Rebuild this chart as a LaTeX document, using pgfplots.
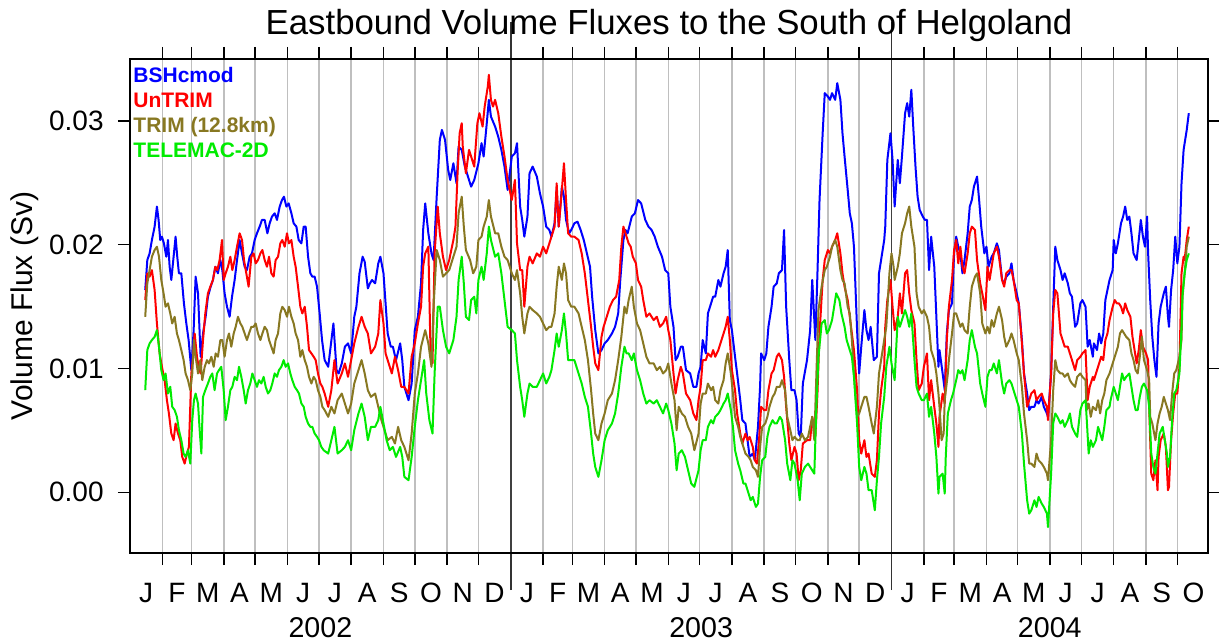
\documentclass[border=0pt]{standalone}
\usepackage{fontspec}
\setmainfont{Liberation Sans}
\usepackage{pgfplots}
\pgfplotsset{compat=1.18}

\definecolor{bshblue}{RGB}{0,0,255}
\definecolor{untrimred}{RGB}{255,0,0}
\definecolor{trimolive}{RGB}{136,120,34}
\definecolor{telemacgreen}{RGB}{0,235,0}

\begin{document}
\begin{tikzpicture}
\begin{axis}[
  scale only axis,
  width=539pt, height=247pt,
  xmin=0, xmax=1033.4,
  ymin=-0.0049, ymax=0.0350,
  clip mode=individual,
  axis line style={line width=1pt},
  tick align=outside,
  major tick length=6pt,
  minor tick length=18.5pt,
  tick style={black, line width=0.75pt},
  minor tick style={black!80, line width=0.9pt},
  xtick={31,59,90,120,151,181,212,243,273,304,334,396,424,455,485,516,546,577,608,638,669,699,761,790,821,851,882,912,943,974,1004},
  xticklabels={},
  minor xtick={365,730},
  xmajorgrids, xminorgrids,
  major grid style={black!25, line width=0.75pt},
  minor grid style={black!75, line width=0.9pt},
  extra x ticks={15.5,45,74.5,105,135.5,166,196.5,227.5,258,288.5,319,349.5,380.5,410,439.5,470,500.5,531,561.5,592.5,623,653.5,684,714.5,745.5,775.5,805.5,836,866.5,897,927.5,958.5,989,1019.5},
  extra x tick labels={J,F,M,A,M,J,J,A,S,O,N,D,J,F,M,A,M,J,J,A,S,O,N,D,J,F,M,A,M,J,J,A,S,O},
  extra x tick style={major tick length=0pt, grid=none,
    xticklabel style={anchor=base, yshift=-24.5pt}},
  ytick={0,0.01,0.02,0.03},
  scaled y ticks=false,
  tick label style={font=\fontsize{14}{16}\selectfont},
  yticklabel style={/pgf/number format/.cd, fixed, fixed zerofill, precision=2,
    assume math mode=true, /tikz/.cd, anchor=east, inner sep=0pt, xshift=-7pt},
  title={Eastbound Volume Fluxes to the South of Helgoland},
  every axis title shift=0pt,
  title style={at={(axis description cs:0.5,1)}, anchor=base, yshift=12.35pt,
    font=\fontsize{17.4}{20}\selectfont},
  ylabel={Volume Flux (Sv)},
  ylabel style={at={(axis description cs:-0.09,0.5)}, anchor=base,
    font=\fontsize{15}{18}\selectfont},
  every axis plot/.append style={line width=1pt, line join=round, no marks},
]
% BSHcmod
\addplot[bshblue] table {
x y
14.6 0.01634
16.6 0.01876
18.8 0.01930
21.0 0.02038
23.6 0.02146
25.8 0.02308
27.4 0.02200
29.0 0.02038
30.6 0.02065
32.5 0.02011
34.8 0.01903
36.4 0.02038
38.0 0.01822
39.6 0.01715
41.8 0.01903
43.7 0.02065
45.3 0.01903
46.9 0.01769
49.2 0.01769
51.7 0.01526
54.0 0.01364
56.2 0.01230
58.8 0.00987
61.0 0.01310
62.9 0.01742
65.2 0.01607
67.7 0.01095
70.0 0.01283
72.5 0.01418
74.7 0.01580
77.3 0.01661
79.5 0.01715
81.8 0.01822
84.3 0.01769
86.6 0.01876
88.5 0.01795
90.7 0.01607
93.0 0.01499
95.5 0.01418
97.8 0.01580
100.3 0.01715
102.6 0.01876
105.1 0.02038
107.4 0.01930
109.9 0.01822
112.1 0.01795
114.7 0.01903
116.9 0.01930
119.5 0.02038
121.7 0.02092
124.3 0.02146
126.5 0.02200
129.1 0.02200
131.7 0.02092
133.9 0.02173
136.1 0.02227
138.7 0.02254
140.9 0.02200
143.5 0.02308
145.7 0.02361
147.6 0.02388
149.9 0.02308
152.1 0.02334
154.7 0.02254
156.9 0.02173
159.5 0.02146
161.7 0.02038
164.3 0.02011
166.5 0.02146
168.4 0.02146
170.7 0.01903
172.9 0.01769
174.8 0.01742
177.0 0.01742
179.3 0.01661
181.8 0.01445
184.1 0.01230
186.6 0.01068
190 0.01014
195 0.01364
198 0.00987
200 0.00960
203 0.01041
206 0.01176
209 0.01203
212 0.01122
215 0.01418
217 0.01499
220 0.01769
223 0.01903
225 0.01862
228 0.01647
230 0.01688
232 0.01715
235 0.01688
238 0.01849
240 0.01903
243 0.01769
245 0.01526
247 0.01283
250 0.01176
252 0.01176
255 0.01068
259 0.01203
261 0.01068
263 0.00852
267 0.00744
270 0.00879
273 0.01310
276 0.01418
279 0.01688
281 0.02119
283 0.02334
286 0.02092
289 0.01930
291 0.01876
294 0.02388
297 0.02847
299 0.02927
302 0.02847
305 0.02604
307 0.02523
310 0.02658
313 0.02496
315 0.02793
318 0.02766
321 0.02631
324 0.02550
327 0.02469
330 0.02523
334 0.02658
337 0.02820
339 0.02712
342 0.02981
344 0.03170
346 0.03035
350 0.02954
353 0.02873
356 0.02766
359 0.02631
362 0.02442
366 0.02712
369 0.02739
371 0.02820
374 0.02308
376 0.02200
378 0.02065
381 0.02227
383 0.02577
386 0.02631
390 0.02550
393 0.02415
396 0.02308
399 0.02146
402 0.02119
404 0.02065
407 0.02173
409 0.02442
411 0.02146
414 0.02469
416 0.02388
418 0.02200
421 0.02092
423 0.02119
426 0.02173
429 0.02186
432 0.02119
435 0.02038
438 0.01930
441 0.01822
443 0.01580
446 0.01310
449 0.01122
452 0.01149
455 0.01203
458 0.01230
462 0.01283
465 0.01337
468 0.01445
470 0.01715
473 0.02038
475 0.02119
477 0.02092
481 0.02227
484 0.02254
487 0.02361
490 0.02334
494 0.02200
497 0.02146
500 0.02119
503 0.02065
506 0.01984
510 0.01903
513 0.01795
516 0.01769
518 0.01499
521 0.01337
523 0.01068
525 0.01095
528 0.01176
530 0.01176
533 0.00987
537 0.00960
540 0.00852
543 0.00852
545 0.00960
547 0.01014
549 0.01230
552 0.01122
554 0.01445
557 0.01526
559 0.01580
561 0.01580
564 0.01715
566 0.01661
569 0.01769
571 0.01822
573 0.01957
575 0.01391
577 0.01310
580 0.01095
582 0.00960
585 0.00744
587 0.00583
590 0.00556
592 0.00421
594 0.00286
597 0.00313
599 0.00259
602 0.00529
604 0.00852
605 0.01122
608 0.01068
610 0.01122
612 0.01337
615 0.01499
617 0.01661
620 0.01688
622 0.01769
625 0.01795
627 0.02119
629 0.01499
632 0.01068
634 0.00825
637 0.00825
639 0.00744
641 0.00475
643 0.00448
645 0.00879
649 0.01068
652 0.01310
654 0.01715
657 0.01230
659 0.01769
661 0.02361
664 0.02900
666 0.03224
669 0.03197
671 0.03170
673 0.03224
676 0.03170
678 0.03305
681 0.03170
683 0.02900
685 0.02712
688 0.02442
690 0.02254
692 0.02173
694 0.01984
697 0.01310
699 0.00960
701 0.01176
704 0.01472
706 0.01310
708 0.01230
710 0.01337
713 0.01068
716 0.01095
718 0.01769
720 0.01876
723 0.02038
724 0.02146
726 0.02685
729 0.02900
731 0.02685
733 0.02308
736 0.02685
738 0.02496
740 0.02712
743 0.03062
745 0.03143
747 0.03035
749 0.03251
751 0.02927
753 0.02631
755 0.02388
757 0.02281
760 0.02227
762 0.02200
764 0.02200
766 0.01795
768 0.02065
771 0.01822
773 0.01418
775 0.01014
776 0.01149
779 0.00960
781 0.00825
783 0.01283
785 0.01472
788 0.01526
790 0.01930
792 0.02065
794 0.01984
796 0.01930
798 0.01769
800 0.01876
803 0.02092
805 0.02308
807 0.02361
809 0.02469
812 0.02550
814 0.02361
816 0.02146
819 0.01930
821 0.01984
823 0.01822
826 0.01903
828 0.01930
831 0.02011
833 0.01957
836 0.01715
838 0.01688
840 0.01742
843 0.01769
845 0.01849
847 0.01715
850 0.01607
852 0.01526
855 0.01230
857 0.00960
860 0.00798
862 0.00664
864 0.00691
867 0.00691
869 0.00744
871 0.00717
874 0.00771
876 0.00691
879 0.00637
880 0.00610
883 0.00960
885 0.01499
887 0.01984
889 0.01876
892 0.01795
894 0.01715
896 0.01769
899 0.01688
901 0.01607
903 0.01580
906 0.01337
908 0.01364
911 0.01526
913 0.01553
916 0.01499
918 0.01176
920 0.01230
923 0.01095
924 0.01203
927 0.01149
929 0.01283
931 0.01203
933 0.01283
935 0.01553
937 0.01634
939 0.01715
942 0.01795
943 0.02038
945 0.01930
947 0.02011
950 0.02173
952 0.02227
954 0.02308
956 0.02200
958 0.02227
960 0.02092
962 0.01930
965 0.01876
967 0.02038
969 0.02200
971 0.02065
973 0.01984
975 0.02227
976 0.01930
978 0.01553
980 0.01256
982 0.01068
984 0.00933
986 0.01364
988 0.01499
991 0.01607
993 0.01661
995 0.01418
996 0.01337
998 0.01634
1000 0.01795
1002 0.02065
1004 0.01849
1006 0.01984
1008 0.02496
1010 0.02766
1011 0.02820
1013 0.02927
1015 0.03062
};
% UnTRIM
\addplot[untrimred] table {
x y
14.6 0.01553
16.6 0.01769
18.8 0.01742
21.0 0.01795
23.6 0.01634
25.8 0.01364
28.4 0.01122
30.6 0.01014
33.2 0.00906
35.4 0.00744
37.3 0.00637
39.6 0.00475
41.8 0.00421
43.7 0.00556
46.0 0.00475
48.2 0.00421
50.1 0.00286
52.4 0.00232
54.6 0.00313
56.5 0.00367
58.8 0.00960
60.4 0.01095
62.0 0.01283
64.2 0.01095
65.8 0.01014
67.7 0.00960
70.0 0.01230
72.2 0.01445
74.7 0.01607
77.0 0.01661
79.5 0.01715
81.8 0.01822
83.7 0.01795
85.9 0.01876
88.2 0.02038
89.8 0.01715
91.7 0.01769
93.9 0.01822
96.2 0.01903
98.1 0.01795
100.3 0.01876
102.6 0.01984
105.1 0.02092
107.4 0.02038
109.3 0.01876
111.5 0.01769
113.7 0.01661
116.3 0.01903
118.5 0.01930
120.5 0.01849
122.7 0.01876
125.0 0.01930
126.9 0.01957
129.1 0.01876
131.3 0.01822
133.3 0.01903
135.5 0.01769
137.7 0.01742
139.6 0.01876
141.9 0.01903
144.1 0.02011
146.0 0.02038
148.3 0.01984
150.5 0.02092
152.4 0.02011
154.7 0.02038
156.9 0.01903
158.8 0.01822
161.1 0.01661
163.3 0.01499
165.2 0.01445
167.5 0.01499
169.7 0.01337
171.6 0.01149
173.9 0.01122
176.1 0.01095
178.0 0.01068
180.2 0.00960
182.5 0.00879
184.4 0.00852
186.6 0.00798
190 0.00691
193 0.00825
196 0.01068
199 0.00879
203 0.00960
206 0.01041
209 0.00933
212 0.01068
215 0.01203
219 0.01337
222 0.01418
225 0.01337
228 0.01283
231 0.01122
235 0.01176
238 0.01283
240 0.01553
243 0.01364
245 0.01122
247 0.01068
251 0.00960
254 0.01095
257 0.00987
260 0.00852
263 0.00852
267 0.00798
270 0.01095
273 0.01203
276 0.01364
279 0.01499
281 0.01822
283 0.01930
286 0.01984
288 0.01176
290 0.01041
292 0.01930
295 0.02308
297 0.02092
300 0.01903
303 0.01795
306 0.01876
310 0.02038
312 0.02146
314 0.02577
316 0.02900
318 0.02981
319 0.02793
322 0.02577
325 0.02766
327 0.02712
330 0.02631
333 0.02981
335 0.03062
338 0.02954
340 0.03116
343 0.03278
344 0.03372
346 0.03170
348 0.03116
350 0.03170
353 0.03062
356 0.02873
359 0.02712
362 0.02523
366 0.02361
369 0.02523
371 0.02011
374 0.01795
376 0.01795
378 0.01499
381 0.01822
383 0.01903
386 0.01849
390 0.01930
393 0.01903
396 0.01984
399 0.01930
402 0.02011
404 0.02065
407 0.02146
409 0.02496
411 0.02146
414 0.02442
416 0.02658
418 0.02361
420 0.02092
423 0.02065
426 0.02065
430 0.02038
433 0.01930
436 0.01769
439 0.01553
442 0.01337
444 0.01176
446 0.01041
449 0.00987
452 0.01256
454 0.01337
457 0.01418
460 0.01499
463 0.01553
466 0.01580
469 0.01715
471 0.01984
473 0.02146
476 0.02065
478 0.02011
480 0.01984
482 0.01903
485 0.01849
487 0.01715
490 0.01661
492 0.01553
495 0.01418
498 0.01445
502 0.01391
505 0.01418
508 0.01337
511 0.01364
514 0.01418
516 0.01310
518 0.01230
521 0.00960
523 0.00798
525 0.00906
528 0.01014
530 0.00960
533 0.00798
537 0.00744
540 0.00637
543 0.00583
545 0.00744
547 0.00852
549 0.01068
552 0.01068
554 0.01122
557 0.01095
559 0.01149
561 0.01095
564 0.01149
566 0.01203
569 0.01283
571 0.01337
573 0.01418
575 0.01230
577 0.00987
580 0.00825
582 0.00637
585 0.00475
587 0.00394
590 0.00475
592 0.00421
594 0.00448
597 0.00367
599 0.00259
601 0.00232
603 0.00421
605 0.00691
608 0.00664
610 0.00664
612 0.00825
615 0.00960
617 0.00987
620 0.01095
622 0.01122
625 0.01068
627 0.00933
629 0.00691
632 0.00394
634 0.00259
637 0.00367
639 0.00313
641 0.00098
643 0.00178
645 0.00394
649 0.00421
652 0.00421
654 0.00610
657 0.00448
659 0.00798
661 0.01283
664 0.01715
666 0.01876
669 0.01957
671 0.01930
673 0.01984
676 0.02038
678 0.02092
681 0.01930
683 0.01769
685 0.01661
688 0.01553
690 0.01418
692 0.01283
694 0.01149
697 0.00825
699 0.00421
701 0.00313
704 0.00421
706 0.00286
708 0.00313
711 0.00151
714 0.00125
716 0.00259
718 0.00637
720 0.00825
723 0.01014
724 0.01337
726 0.01553
729 0.01715
731 0.01499
733 0.01310
736 0.01418
738 0.01607
740 0.01445
743 0.01769
745 0.01795
747 0.01607
749 0.01472
752 0.01364
754 0.01068
756 0.00825
759 0.00879
761 0.01014
764 0.01122
766 0.00744
768 0.00906
771 0.00691
773 0.00556
775 0.00367
776 0.00610
779 0.00798
781 0.00717
783 0.01230
785 0.01499
788 0.01715
790 0.01957
792 0.02038
794 0.01849
796 0.01984
798 0.01822
800 0.01769
803 0.01930
805 0.02092
807 0.02146
810 0.02119
812 0.01876
815 0.01688
817 0.01607
820 0.01472
822 0.01822
824 0.01715
826 0.01822
828 0.01930
831 0.01984
833 0.01903
836 0.01715
838 0.01661
840 0.01769
843 0.01795
845 0.01795
847 0.01715
850 0.01553
852 0.01526
855 0.01203
857 0.00960
860 0.00691
862 0.00744
864 0.00798
867 0.00825
869 0.00744
871 0.00771
874 0.00798
876 0.00744
879 0.00691
880 0.00583
883 0.00960
885 0.01445
887 0.01634
889 0.01607
892 0.01283
894 0.01230
896 0.01176
899 0.01176
901 0.01122
903 0.01068
906 0.00987
908 0.01068
911 0.01095
913 0.01122
916 0.01149
918 0.00744
920 0.00852
923 0.00933
924 0.00906
927 0.00987
929 0.01041
931 0.01095
933 0.01068
935 0.01230
937 0.01283
939 0.01391
942 0.01499
944 0.01553
946 0.01526
948 0.01526
950 0.01499
952 0.01445
954 0.01526
956 0.01472
959 0.01418
961 0.01256
963 0.01149
965 0.01041
967 0.01149
969 0.01310
971 0.01176
974 0.01122
976 0.01068
977 0.00691
979 0.00151
981 0.00098
983 0.00259
985 0.00017
986 0.00286
988 0.00421
991 0.00475
993 0.00367
995 0.00017
996 0.00044
998 0.00421
1000 0.00637
1002 0.00798
1004 0.00798
1006 0.01014
1008 0.01769
1010 0.01903
1011 0.01876
1013 0.02038
1015 0.02146
};
% TRIM (12.8km)
\addplot[trimolive] table {
x y
14.6 0.01418
16.6 0.01688
18.8 0.01795
21.0 0.01903
23.6 0.01957
25.8 0.01984
27.8 0.01903
30.0 0.01715
32.2 0.01607
34.1 0.01499
36.4 0.01526
38.6 0.01445
40.5 0.01364
42.8 0.01418
45.0 0.01283
46.9 0.01230
49.2 0.01149
51.4 0.01068
53.3 0.00960
55.6 0.00906
57.8 0.00825
59.7 0.00960
61.3 0.01230
62.9 0.01095
65.2 0.00960
67.4 0.01068
69.3 0.00906
71.6 0.01014
73.8 0.01068
75.7 0.01041
78.0 0.01095
80.2 0.01014
82.1 0.01122
84.3 0.01095
86.6 0.01230
88.5 0.01230
90.7 0.01095
93.0 0.01230
94.9 0.01283
97.1 0.01176
99.4 0.01283
101.3 0.01337
103.5 0.01418
105.8 0.01364
107.7 0.01337
109.9 0.01283
112.1 0.01230
114.1 0.01283
116.3 0.01337
118.5 0.01337
120.5 0.01364
122.7 0.01283
125.0 0.01230
126.9 0.01283
129.1 0.01337
131.3 0.01310
133.3 0.01230
135.5 0.01176
137.7 0.01122
139.6 0.01230
141.9 0.01283
144.1 0.01445
146.0 0.01499
148.3 0.01472
150.5 0.01418
152.4 0.01499
154.7 0.01418
156.9 0.01364
158.8 0.01283
161.1 0.01230
163.3 0.01095
165.2 0.01149
167.5 0.01068
169.7 0.01014
171.6 0.00933
173.9 0.00879
176.1 0.00933
178.0 0.00906
180.2 0.00825
182.5 0.00771
184.4 0.00691
186.6 0.00664
190 0.00610
193 0.00691
196 0.00637
199 0.00744
203 0.00798
206 0.00717
209 0.00637
212 0.00717
215 0.00879
219 0.00987
222 0.01068
225 0.00960
228 0.00825
231 0.00771
235 0.00798
238 0.00691
241 0.00583
244 0.00502
247 0.00421
251 0.00448
254 0.00394
257 0.00529
260 0.00421
263 0.00367
267 0.00259
270 0.00475
273 0.00798
276 0.00960
279 0.01176
283 0.01310
286 0.01203
289 0.01014
291 0.01499
294 0.01957
297 0.01876
300 0.01742
303 0.01769
306 0.01795
310 0.01903
313 0.01984
315 0.02254
318 0.02388
320 0.02146
322 0.01957
326 0.01876
329 0.01769
332 0.01822
334 0.02038
337 0.02065
339 0.02146
342 0.02227
344 0.02361
346 0.02227
350 0.02092
353 0.02092
356 0.01984
359 0.01903
362 0.01876
366 0.01769
369 0.01715
371 0.01795
374 0.01607
376 0.01418
378 0.01283
381 0.01445
383 0.01499
386 0.01472
390 0.01445
393 0.01418
396 0.01364
399 0.01310
402 0.01337
404 0.01337
407 0.01445
409 0.01661
411 0.01822
414 0.01715
416 0.01849
418 0.01769
420 0.01553
423 0.01499
426 0.01499
430 0.01445
433 0.01337
436 0.01230
439 0.01068
442 0.00825
444 0.00637
446 0.00475
449 0.00421
452 0.00556
455 0.00637
458 0.00744
462 0.00798
465 0.00906
468 0.01068
471 0.01256
474 0.01499
476 0.01445
478 0.01553
481 0.01661
483 0.01499
486 0.01364
489 0.01310
492 0.01203
495 0.01095
498 0.01041
502 0.01041
505 0.00987
508 0.01014
511 0.00960
514 0.00987
516 0.01041
519 0.00879
522 0.00744
524 0.00502
526 0.00691
529 0.00637
532 0.00610
535 0.00529
538 0.00475
541 0.00340
545 0.00475
547 0.00717
549 0.00798
552 0.00798
554 0.00879
557 0.00825
559 0.00852
561 0.00744
564 0.00717
566 0.00825
569 0.00906
571 0.01041
573 0.01122
576 0.00960
578 0.00798
580 0.00610
583 0.00529
585 0.00448
588 0.00367
590 0.00313
593 0.00286
595 0.00259
597 0.00205
600 0.00178
602 0.00125
604 0.00367
606 0.00529
609 0.00556
611 0.00610
613 0.00691
616 0.00771
618 0.00798
620 0.00852
623 0.00852
625 0.00906
628 0.00825
630 0.00610
633 0.00502
635 0.00421
637 0.00448
640 0.00421
642 0.00421
644 0.00475
647 0.00421
650 0.00448
652 0.00529
654 0.00610
656 0.00421
658 0.00960
660 0.01472
663 0.01661
666 0.01795
668 0.01822
671 0.01903
673 0.01984
676 0.02038
678 0.01984
681 0.01795
683 0.01715
685 0.01688
688 0.01499
690 0.01445
692 0.01230
694 0.00960
697 0.00610
699 0.00637
701 0.00691
704 0.00771
706 0.00771
708 0.00691
711 0.00556
713 0.00475
716 0.00691
718 0.00960
720 0.01068
723 0.01230
725 0.01337
728 0.01769
730 0.01930
732 0.01822
733 0.01715
736 0.01822
738 0.01930
740 0.02092
743 0.02173
745 0.02254
747 0.02308
749 0.02146
752 0.01984
754 0.01607
756 0.01499
759 0.01445
761 0.01472
764 0.01418
766 0.01337
768 0.01149
771 0.01068
773 0.00960
775 0.00798
776 0.00691
778 0.00421
780 0.00475
781 0.00744
784 0.00960
785 0.01068
788 0.01283
790 0.01445
792 0.01445
794 0.01391
796 0.01337
798 0.01364
800 0.01310
803 0.01283
805 0.01499
807 0.01661
810 0.01742
812 0.01769
815 0.01607
817 0.01364
820 0.01283
822 0.01337
824 0.01283
826 0.01391
828 0.01337
831 0.01445
833 0.01499
836 0.01391
838 0.01256
840 0.01176
843 0.01230
845 0.01283
847 0.01230
850 0.01122
852 0.01068
855 0.00852
857 0.00637
860 0.00421
862 0.00232
864 0.00232
867 0.00205
869 0.00313
871 0.00259
874 0.00232
876 0.00205
879 0.00151
880 0.00098
883 0.00421
885 0.00825
887 0.01068
889 0.00987
892 0.00960
894 0.00960
896 0.00933
899 0.00960
901 0.00906
903 0.00879
906 0.00852
908 0.00933
911 0.00960
913 0.00933
916 0.00906
917 0.00664
919 0.00717
921 0.00610
923 0.00691
926 0.00664
928 0.00744
930 0.00637
932 0.00744
934 0.00798
936 0.00906
939 0.00960
940 0.00987
943 0.01068
945 0.01122
947 0.01176
949 0.01283
951 0.01310
953 0.01283
955 0.01256
958 0.01230
960 0.01122
962 0.01068
964 0.00987
966 0.00960
968 0.01095
970 0.01256
972 0.01068
975 0.00987
977 0.00906
978 0.00610
980 0.00556
983 0.00421
985 0.00556
987 0.00637
989 0.00691
991 0.00771
993 0.00717
995 0.00664
997 0.00583
999 0.00798
1001 0.00960
1003 0.00987
1006 0.01095
1008 0.01230
1009 0.01580
1011 0.01769
1013 0.01984
1015 0.02065
};
% TELEMAC-2D
\addplot[telemacgreen] table {
x y
14.6 0.00825
16.6 0.01149
18.8 0.01203
21.0 0.01230
23.6 0.01256
25.8 0.01310
27.8 0.01176
30.0 0.00987
32.2 0.00906
34.1 0.00960
36.4 0.00798
38.6 0.00852
40.5 0.00691
42.8 0.00664
45.0 0.00610
46.9 0.00502
49.2 0.00421
51.4 0.00313
53.3 0.00286
55.6 0.00340
57.8 0.00232
59.7 0.00583
61.3 0.00744
62.9 0.00798
65.2 0.00717
66.8 0.00502
68.4 0.00313
70.0 0.00771
72.2 0.00825
74.7 0.00879
77.0 0.00933
78.9 0.00960
81.1 0.00825
83.4 0.00960
85.3 0.00987
87.5 0.01014
89.8 0.00825
91.7 0.00583
93.9 0.00691
96.2 0.00825
98.1 0.00852
100.3 0.00933
102.6 0.00906
104.5 0.01014
106.7 0.00933
109.0 0.00825
110.9 0.00717
113.1 0.00825
115.3 0.00879
117.3 0.00960
119.5 0.00906
121.7 0.00852
123.7 0.00906
125.9 0.00879
128.1 0.00933
130.1 0.00852
132.3 0.00798
134.5 0.00825
136.4 0.00879
138.7 0.00960
140.9 0.00933
142.8 0.00987
145.1 0.01014
147.3 0.01068
149.2 0.01014
151.5 0.01041
153.7 0.00960
155.6 0.00906
157.9 0.00852
160.1 0.00825
162.0 0.00798
164.3 0.00717
166.5 0.00691
168.4 0.00610
170.7 0.00556
172.9 0.00529
174.8 0.00529
177.0 0.00475
179.3 0.00448
181.2 0.00421
183.4 0.00367
185.7 0.00340
190 0.00313
193 0.00421
196 0.00529
199 0.00313
203 0.00340
206 0.00367
209 0.00421
212 0.00340
215 0.00502
219 0.00637
222 0.00717
225 0.00610
228 0.00421
231 0.00529
235 0.00529
238 0.00583
240 0.00691
243 0.00556
246 0.00421
249 0.00340
252 0.00367
255 0.00286
259 0.00367
261 0.00286
263 0.00125
267 0.00098
270 0.00286
273 0.00529
276 0.00744
279 0.00906
282 0.01068
284 0.00798
287 0.00583
290 0.00475
292 0.00960
295 0.01499
297 0.01499
300 0.01310
303 0.01176
306 0.01122
310 0.01230
313 0.01418
315 0.01715
318 0.01903
320 0.01688
322 0.01418
325 0.01391
327 0.01553
330 0.01580
332 0.01445
334 0.01715
337 0.01822
339 0.01715
342 0.01930
344 0.02146
346 0.02038
350 0.01903
353 0.01930
356 0.01769
359 0.01553
362 0.01337
366 0.01310
369 0.01283
371 0.01068
374 0.00852
376 0.00744
378 0.00610
381 0.00798
383 0.00879
386 0.00852
390 0.00852
393 0.00906
396 0.00960
399 0.00879
402 0.00933
404 0.00987
407 0.01149
409 0.01283
411 0.01176
414 0.01310
416 0.01445
418 0.01283
420 0.01068
423 0.01068
426 0.01068
430 0.00960
433 0.00879
436 0.00771
439 0.00691
442 0.00475
444 0.00313
446 0.00205
449 0.00125
452 0.00259
455 0.00421
458 0.00502
462 0.00556
465 0.00637
468 0.00798
471 0.01014
474 0.01176
476 0.01122
478 0.01122
481 0.01068
483 0.01122
486 0.00987
489 0.00906
492 0.00798
495 0.00717
498 0.00744
502 0.00717
505 0.00744
508 0.00691
511 0.00637
514 0.00717
516 0.00664
519 0.00556
522 0.00394
524 0.00178
526 0.00313
529 0.00340
532 0.00286
535 0.00178
538 0.00071
541 0.00044
545 0.00178
547 0.00340
549 0.00421
552 0.00421
554 0.00529
557 0.00583
559 0.00556
561 0.00610
564 0.00637
566 0.00664
569 0.00717
571 0.00744
573 0.00798
576 0.00664
578 0.00529
580 0.00340
583 0.00232
585 0.00178
588 0.00071
590 0.00071
593 -0.00010
595 -0.00064
597 -0.00037
600 -0.00118
602 -0.00091
604 0.00125
606 0.00259
609 0.00286
611 0.00448
613 0.00529
616 0.00583
618 0.00556
620 0.00556
623 0.00610
625 0.00583
628 0.00421
630 0.00232
633 0.00098
635 0.00259
637 0.00232
640 0.00098
642 -0.00064
644 0.00151
647 0.00205
650 0.00232
652 0.00205
654 0.00178
656 0.00151
658 0.00691
660 0.01095
663 0.01364
666 0.01391
668 0.01283
670 0.01310
673 0.01391
675 0.01499
677 0.01607
680 0.01553
682 0.01445
685 0.01337
687 0.01230
689 0.01176
692 0.01095
694 0.00933
697 0.00556
699 0.00205
701 0.00098
704 0.00205
706 0.00151
708 0.00017
711 0.00017
714 -0.00145
716 0.00098
718 0.00286
720 0.00556
723 0.00771
725 0.01014
728 0.01176
730 0.01041
733 0.00906
736 0.01418
738 0.01337
740 0.01391
743 0.01472
745 0.01418
747 0.01337
749 0.01445
752 0.01068
754 0.00852
756 0.00798
759 0.00744
761 0.00744
764 0.00798
766 0.00610
768 0.00691
771 0.00475
773 0.00286
775 -0.00010
776 0.00125
779 0.00151
781 -0.00010
782 0.00286
784 0.00637
787 0.00744
789 0.00798
792 0.00906
794 0.00987
796 0.00960
798 0.00987
800 0.00906
803 0.01068
805 0.01230
807 0.01310
810 0.01176
812 0.01122
815 0.00879
817 0.00798
820 0.00691
822 0.00933
824 0.00987
826 0.00987
828 0.01041
831 0.00960
833 0.01068
836 0.00879
838 0.00798
840 0.00879
843 0.00906
845 0.00879
847 0.00825
850 0.00744
852 0.00691
855 0.00475
857 0.00232
860 -0.00064
862 -0.00172
864 -0.00145
867 -0.00064
869 -0.00118
871 -0.00037
874 -0.00091
876 -0.00118
879 -0.00172
880 -0.00280
883 0.00151
885 0.00556
887 0.00637
889 0.00610
892 0.00556
894 0.00583
896 0.00529
899 0.00583
901 0.00637
903 0.00529
906 0.00475
908 0.00448
911 0.00664
913 0.00717
916 0.00744
917 0.00610
919 0.00313
921 0.00421
923 0.00367
926 0.00421
928 0.00529
930 0.00475
932 0.00421
934 0.00529
936 0.00664
939 0.00691
940 0.00744
943 0.00852
945 0.00798
947 0.00744
949 0.00852
951 0.00960
953 0.00906
955 0.00933
958 0.00960
960 0.00852
962 0.00744
964 0.00664
966 0.00664
968 0.00771
970 0.00852
972 0.00879
975 0.00825
977 0.00691
979 0.00313
981 0.00205
983 0.00151
985 0.00313
987 0.00475
990 0.00529
992 0.00421
994 0.00313
995 0.00205
997 0.00286
999 0.00583
1001 0.00798
1003 0.00825
1006 0.00960
1008 0.01337
1009 0.01607
1011 0.01769
1013 0.01876
1015 0.01930
};
\node[anchor=base west, inner sep=0pt, font=\bfseries\fontsize{10.5}{12}\selectfont, text=bshblue] at (rel axis cs:0.0028,0.9514) {BSHcmod};
\node[anchor=base west, inner sep=0pt, font=\bfseries\fontsize{10.5}{12}\selectfont, text=untrimred] at (rel axis cs:0.0028,0.9008) {UnTRIM};
\node[anchor=base west, inner sep=0pt, font=\bfseries\fontsize{10.5}{12}\selectfont, text=trimolive] at (rel axis cs:0.0028,0.8502) {TRIM (12.8km)};
\node[anchor=base west, inner sep=0pt, font=\bfseries\fontsize{10.5}{12}\selectfont, text=telemacgreen] at (rel axis cs:0.0028,0.7996) {TELEMAC-2D};
\node[anchor=base, yshift=-42pt, font=\fontsize{14.3}{16}\selectfont] at (axis cs:182.5,-0.0049) {2002};
\node[anchor=base, yshift=-42pt, font=\fontsize{14.3}{16}\selectfont] at (axis cs:547.5,-0.0049) {2003};
\node[anchor=base, yshift=-42pt, font=\fontsize{14.3}{16}\selectfont] at (axis cs:881.7,-0.0049) {2004};
\end{axis}
\pgfresetboundingbox
\path (-65pt,-44.5pt) rectangle (544.5pt,276.5pt);
\end{tikzpicture}
\end{document}
